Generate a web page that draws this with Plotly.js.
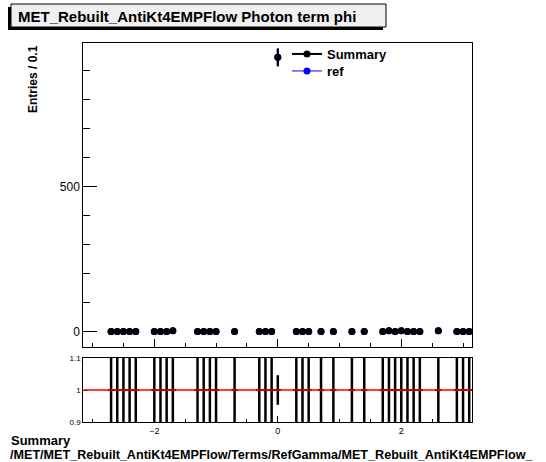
<!DOCTYPE html>
<html>
<head>
<meta charset="utf-8">
<script src="https://cdn.plot.ly/plotly-3.0.1.min.js"></script>
<style>html,body{margin:0;padding:0;background:#fff;}#chart{width:546px;height:462px;}</style>
</head>
<body>
<div id="chart"></div>
<script>
// ---- data ----
var binCenters = [-2.7,-2.6,-2.5,-2.4,-2.3,-2.0,-1.9,-1.8,-1.7,-1.3,-1.2,-1.1,-1.0,-0.7,-0.3,-0.2,-0.1,0.0,0.3,0.4,0.5,0.7,0.9,1.2,1.4,1.7,1.8,1.9,2.0,2.1,2.2,2.3,2.6,2.9,3.0,3.1];
var summaryCounts = [1,1,1,1,1,1,1,1,3,1,1,1,1,1,1,1,1,946,1,1,1,1,1,1,1,1,3,1,3,1,1,1,3,1,1,1];
var refCounts     = [1,1,1,1,1,1,1,1,3,1,1,1,1,1,1,1,1,946,1,1,1,1,1,1,1,1,3,1,3,1,1,1,3,1,1,1];
var binHalfWidth = 0.05;
var titleText = "MET_Rebuilt_AntiKt4EMPFlow Photon term phi";
var yTitleText = "Entries / 0.1";
var footLine1 = "Summary";
var footLine2 = "/MET/MET_Rebuilt_AntiKt4EMPFlow/Terms/RefGamma/MET_Rebuilt_AntiKt4EMPFlow_";

// ---- derived ----
var sumErr = summaryCounts.map(function(v){return Math.sqrt(v);});
var refErr = refCounts.map(function(v){return Math.sqrt(v);});
var ratio = summaryCounts.map(function(v,i){return v/refCounts[i];});
var ratioErr = summaryCounts.map(function(v,i){
  var r = v/refCounts[i];
  return r*Math.sqrt(1/v + 1/refCounts[i]);
});

var W = 546, H = 462;
function px(x){return x/W;}
function py(y){return 1 - y/H;}

var FONT = "Liberation Sans, Arial, Helvetica, sans-serif";

var traces = [
  {x: binCenters, y: refCounts, type:'scatter', mode:'markers', xaxis:'x', yaxis:'y',
   marker:{color:'#0000ff', size:7}, showlegend:false,
   error_y:{type:'data', array:refErr, color:'#0000ff', thickness:2, width:0}},
  {x: binCenters, y: summaryCounts, type:'scatter', mode:'markers', xaxis:'x', yaxis:'y',
   marker:{color:'#000000', size:7}, showlegend:false,
   error_y:{type:'data', array:sumErr, color:'#000000', thickness:2, width:0}},
  {x:[null], y:[null], type:'scatter', mode:'lines+markers', name:'<b>Summary</b>', xaxis:'x', yaxis:'y',
   legend:'legend', line:{color:'#000000', width:2}, marker:{color:'#000000', size:7}},
  {x:[null], y:[null], type:'scatter', mode:'lines+markers', name:'<b>ref</b>', xaxis:'x', yaxis:'y',
   legend:'legend2', line:{color:'#0000ff', width:1}, marker:{color:'#0000ff', size:7}},
  {x: binCenters, y: ratio, type:'scatter', mode:'markers', xaxis:'x2', yaxis:'y2',
   marker:{color:'#000000', size:1}, showlegend:false,
   error_y:{type:'data', array:ratioErr, color:'#000000', thickness:2.5, width:0},
   error_x:{type:'constant', value:binHalfWidth, color:'#000000', thickness:2, width:0}}
];

var xDom = [px(83.3), px(472.3)];
var legFont = {family:FONT, size:13, color:'#000000'};
var layout = {
  width: W, height: H, autosize:false,
  margin:{l:0,r:0,t:0,b:0},
  paper_bgcolor:'#ffffff', plot_bgcolor:'#ffffff',
  font:{family:FONT, color:'#000000', size:12},
  showlegend:true,
  legend:{x:px(287), y:py(39), xanchor:'left', yanchor:'top', bgcolor:'rgba(0,0,0,0)',
          font:legFont, itemwidth:30},
  legend2:{x:px(287), y:py(56), xanchor:'left', yanchor:'top', bgcolor:'rgba(0,0,0,0)',
          font:legFont, itemwidth:30},
  xaxis:{domain:xDom, anchor:'y', range:[-3.15,3.15], showline:true, mirror:true, linecolor:'#000', linewidth:1,
         ticks:'inside', tickcolor:'#000', ticklen:8, tick0:0, dtick:2, showticklabels:false,
         showgrid:false, zeroline:false,
         minor:{dtick:0.5, tick0:0, ticks:'inside', ticklen:4, tickcolor:'#000', showgrid:false}},
  yaxis:{domain:[py(346.7), py(43.3)], anchor:'x', range:[-51.7,994.5], showline:true, mirror:true, linecolor:'#000', linewidth:1,
         ticks:'inside', tickcolor:'#000', ticklen:14, tick0:0, dtick:500,
         tickfont:{family:FONT, size:12}, showgrid:false, zeroline:false,
         minor:{dtick:100, tick0:0, ticks:'inside', ticklen:7, tickcolor:'#000', showgrid:false}},
  xaxis2:{domain:xDom, anchor:'y2', range:[-3.15,3.15], showline:true, mirror:true, linecolor:'#000', linewidth:1,
          ticks:'inside', tickcolor:'#000', ticklen:6, tick0:0, dtick:2,
          tickfont:{family:FONT, size:9}, showgrid:false, zeroline:false,
          minor:{dtick:0.5, tick0:0, ticks:'inside', ticklen:3, tickcolor:'#000', showgrid:false}},
  yaxis2:{domain:[py(422.3), py(357.7)], anchor:'x2', range:[0.9,1.1], showline:true, mirror:true, linecolor:'#000', linewidth:1,
          ticks:'inside', tickcolor:'#000', ticklen:5, tickvals:[0.9,1,1.1], ticktext:['0.9','1','1.1'],
          tickfont:{family:FONT, size:8}, showgrid:false, zeroline:false},
  shapes:[
    {type:'rect', xref:'paper', yref:'paper', x0:px(8), x1:px(383), y0:py(30), y1:py(7),
     fillcolor:'#000000', line:{width:0}, layer:'above'},
    {type:'rect', xref:'paper', yref:'paper', x0:px(11), x1:px(386), y0:py(27), y1:py(4),
     fillcolor:'#f0f0f0', line:{color:'#000000', width:1}, layer:'above'},
    {type:'line', xref:'x2', yref:'y2', x0:-3.15, x1:3.15, y0:1, y1:1,
     line:{color:'#ff0000', width:1.5}, layer:'above'}
  ],
  annotations:[
    {text:'<b>'+titleText+'</b>', xref:'paper', yref:'paper', x:px(16), y:py(16), xanchor:'left', yanchor:'middle',
     showarrow:false, font:{family:FONT, size:15, color:'#000'}},
    {text:'<b>'+yTitleText+'</b>', xref:'paper', yref:'paper', x:px(33), y:py(43), xanchor:'center', yanchor:'top',
     textangle:-90, showarrow:false, font:{family:FONT, size:12, color:'#000'}},
    {text:'<b>'+footLine1+'</b>', xref:'paper', yref:'paper', x:px(9), y:py(440), xanchor:'left', yanchor:'middle',
     showarrow:false, font:{family:FONT, size:13, color:'#000'}},
    {text:'<b>'+footLine2+'</b>', xref:'paper', yref:'paper', x:px(8), y:py(455), xanchor:'left', yanchor:'middle',
     showarrow:false, font:{family:FONT, size:12.6, color:'#000'}}
  ]
};

Plotly.newPlot('chart', traces, layout, {staticPlot:true, displayModeBar:false});
</script>
</body>
</html>
